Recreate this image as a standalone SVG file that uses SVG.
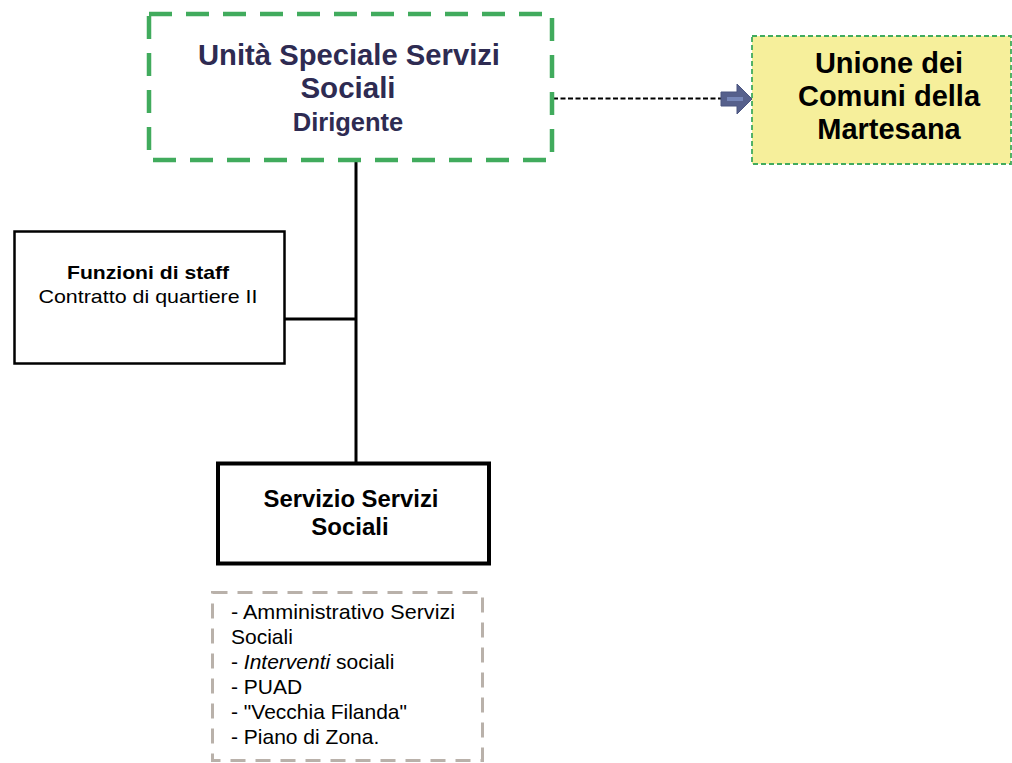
<svg xmlns="http://www.w3.org/2000/svg" width="1012" height="763" viewBox="0 0 1012 763">
<style>
.b{font-family:"Liberation Sans",Arial,sans-serif;font-weight:bold;text-anchor:middle}
.r{font-family:"Liberation Sans",Arial,sans-serif}
.dk{fill:#2e2b52}
</style>
<rect width="1012" height="763" fill="#ffffff"/>
<g id="connectors">
<line x1="356" y1="161" x2="356" y2="462" stroke="#000" stroke-width="3"/>
<line x1="285" y1="319" x2="356" y2="319" stroke="#000" stroke-width="3"/>
<line x1="553" y1="98.5" x2="721" y2="98.5" stroke="#000" stroke-width="2" stroke-dasharray="5,2.5"/>
<path d="M721,92 L737,92 L737,84 L752,99 L737,114 L737,106 L721,106 Z" fill="#56608c" stroke="#4b5580" stroke-width="1"/>
<rect x="727" y="97" width="16" height="4" fill="#7686b8"/>
</g>
<g id="node-unita">
<rect x="149" y="14" width="403" height="146" fill="#fff" stroke="#41ab5d" stroke-width="4.5" stroke-dasharray="23,14"/>
<text class="b dk" x="349" y="65" font-size="29" textLength="302" lengthAdjust="spacingAndGlyphs">Unità Speciale Servizi</text>
<text class="b dk" x="348" y="98" font-size="29.5">Sociali</text>
<text class="b dk" x="348" y="131" font-size="25.5">Dirigente</text>
</g>
<g id="node-unione">
<rect x="752" y="36" width="259" height="128" fill="#f6ef9b" stroke="#41ab5d" stroke-width="1.8" stroke-dasharray="5,3"/>
<text class="b" x="889" y="73" font-size="29">Unione dei</text>
<text class="b" x="889" y="106" font-size="29">Comuni della</text>
<text class="b" x="889" y="139" font-size="29">Martesana</text>
</g>
<g id="node-staff">
<rect x="14.5" y="231.5" width="270" height="132" fill="#fff" stroke="#000" stroke-width="2.5"/>
<text class="b" x="148" y="279" font-size="18.5" textLength="162" lengthAdjust="spacingAndGlyphs">Funzioni di staff</text>
<text class="r" x="148" y="303" font-size="19" text-anchor="middle" textLength="219" lengthAdjust="spacingAndGlyphs">Contratto di quartiere II</text>
</g>
<g id="node-servizio">
<rect x="218" y="463.5" width="271" height="100" fill="#fff" stroke="#000" stroke-width="4"/>
<text class="b" x="351" y="507" font-size="23" textLength="175" lengthAdjust="spacingAndGlyphs">Servizio Servizi</text>
<text class="b" x="350" y="535" font-size="24">Sociali</text>
</g>
<g id="node-list">
<rect x="212.5" y="592.5" width="270" height="168" fill="#fff" stroke="#b9b1aa" stroke-width="3" stroke-dasharray="15,10"/>
<g class="r" font-size="21">
<text x="231" y="619" textLength="224" lengthAdjust="spacingAndGlyphs">- Amministrativo Servizi</text>
<text x="231" y="644">Sociali</text>
<text x="231" y="669">- <tspan font-style="italic">Interventi</tspan> sociali</text>
<text x="231" y="694">- PUAD</text>
<text x="231" y="719">- "Vecchia Filanda"</text>
<text x="231" y="744">- Piano di Zona.</text>
</g>
</g>
</svg>
